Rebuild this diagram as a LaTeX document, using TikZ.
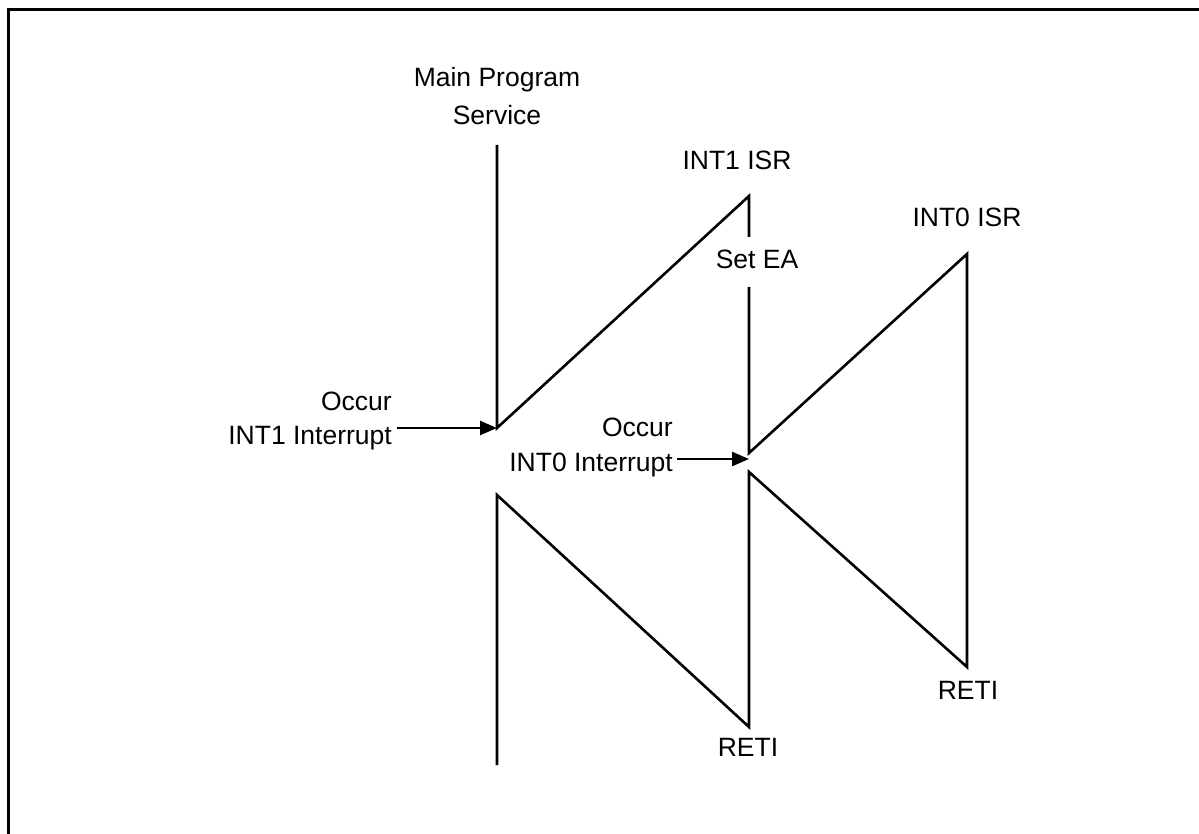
\documentclass[tikz,border=0pt]{standalone}
\usepackage{fontspec}
\setmainfont{Liberation Sans}
\usetikzlibrary{arrows.meta}
\begin{document}
\begin{tikzpicture}[x=1pt,y=-1pt,
  flow/.style={line width=2.6pt,line join=miter},
  trigger/.style={line width=2.6pt,-{Triangle[length=17pt,width=14pt]}},
  lbl/.style={inner sep=0pt,font=\fontsize{26.5}{34}\selectfont},
  frame/.style={line width=3pt}]
\useasboundingbox (0,0) rectangle (1199,834);
% outer frame, running off the right and bottom edges
\draw[frame] (8,845) -- (8,10) -- (1210,10);

% execution path corners
\coordinate (mainTop)  at (497,145);
\coordinate (mainInt)  at (497,428);
\coordinate (isr1Top)  at (749,196);
\coordinate (eaAbove)  at (749,237);
\coordinate (eaBelow)  at (749,287);
\coordinate (isr1Int)  at (749,453);
\coordinate (isr0Top)  at (967,254);
\coordinate (isr0End)  at (967,667);
\coordinate (isr1Back) at (749,472);
\coordinate (isr1End)  at (749,727);
\coordinate (mainBack) at (497,495);
\coordinate (mainEnd)  at (497,765);

% interrupt request arrows
\coordinate (req1) at (397,428);
\coordinate (req0) at (677,459);
\coordinate (hit0) at (749,459);

% labels
\node[lbl,anchor=north,align=center] (mainLbl) at (497,67) {Main Program\\[4pt]Service};
\node[lbl] (isr1Lbl) at (737,160) {INT1 ISR};
\node[lbl] (isr0Lbl) at (967,217) {INT0 ISR};
\node[lbl] (eaLbl) at (757,259) {Set EA};
\node[lbl,anchor=north east,align=right] (int1Lbl) at (392,392) {Occur\\INT1 Interrupt};
\node[lbl,anchor=north east,align=right] (int0Lbl) at (673,418) {Occur\\[1pt]INT0 Interrupt};
\node[lbl] (reti0Lbl) at (968,690) {RETI};
\node[lbl] (reti1Lbl) at (748,747) {RETI};

% program flow
\draw[flow] (mainTop) -- (mainInt) -- (isr1Top) -- (eaAbove);
\draw[flow] (eaBelow) -- (isr1Int) -- (isr0Top) -- (isr0End) -- (isr1Back)
  -- (isr1End) -- (mainBack) -- (mainEnd);

\draw[trigger] (req1) -- (mainInt);
\draw[trigger] (req0) -- (hit0);
\end{tikzpicture}
\end{document}
